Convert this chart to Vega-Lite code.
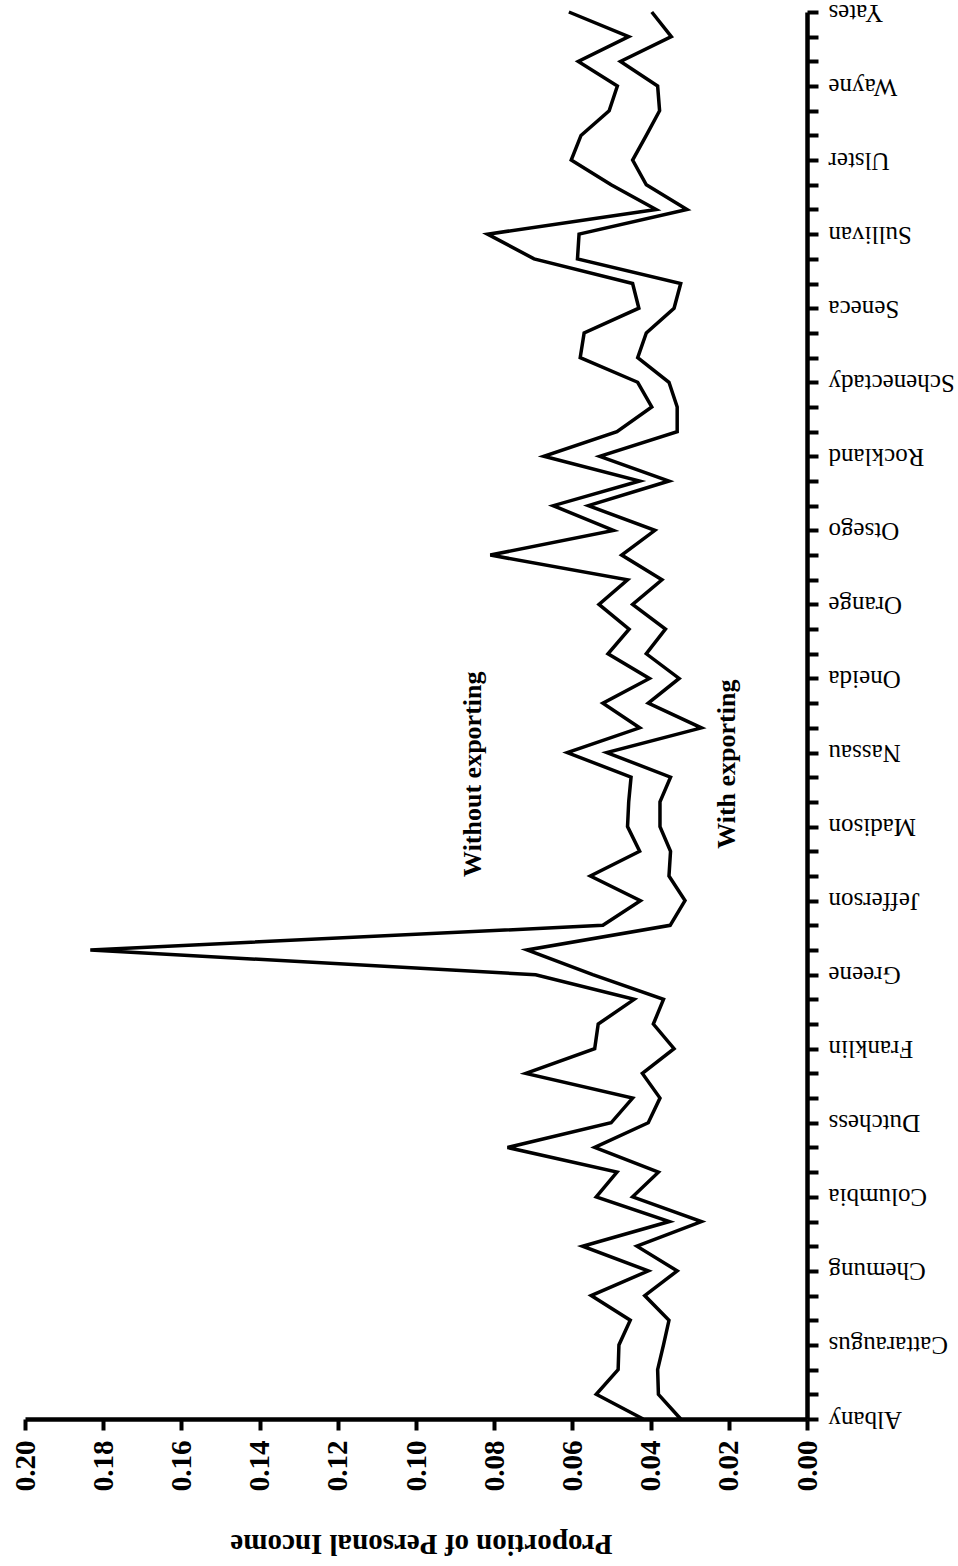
{
  "$schema": "https://vega.github.io/schema/vega-lite/v6.json",
  "width": 782,
  "height": 1407,
  "autosize": "none",
  "padding": {"left": 25, "top": 12, "right": 151, "bottom": 147},
  "background": "white",
  "config": {"view": {"stroke": null}},
  "layer": [
    {
      "data": {"values": [
        {"county":"Albany","idx":0,"series":"Without exporting","value":0.0419},
        {"county":"Allegany","idx":1,"series":"Without exporting","value":0.0539},
        {"county":"Broome","idx":2,"series":"Without exporting","value":0.0483},
        {"county":"Cattaraugus","idx":3,"series":"Without exporting","value":0.0481},
        {"county":"Cayuga","idx":4,"series":"Without exporting","value":0.0452},
        {"county":"Chautauqua","idx":5,"series":"Without exporting","value":0.0552},
        {"county":"Chemung","idx":6,"series":"Without exporting","value":0.0406},
        {"county":"Chenango","idx":7,"series":"Without exporting","value":0.0574},
        {"county":"Clinton","idx":8,"series":"Without exporting","value":0.0352},
        {"county":"Columbia","idx":9,"series":"Without exporting","value":0.0539},
        {"county":"Cortland","idx":10,"series":"Without exporting","value":0.0486},
        {"county":"Delaware","idx":11,"series":"Without exporting","value":0.0766},
        {"county":"Dutchess","idx":12,"series":"Without exporting","value":0.0501},
        {"county":"Erie","idx":13,"series":"Without exporting","value":0.0446},
        {"county":"Essex","idx":14,"series":"Without exporting","value":0.0719},
        {"county":"Franklin","idx":15,"series":"Without exporting","value":0.0543},
        {"county":"Fulton","idx":16,"series":"Without exporting","value":0.0534},
        {"county":"Genesee","idx":17,"series":"Without exporting","value":0.0442},
        {"county":"Greene","idx":18,"series":"Without exporting","value":0.0694},
        {"county":"Hamilton","idx":19,"series":"Without exporting","value":0.1833},
        {"county":"Herkimer","idx":20,"series":"Without exporting","value":0.0522},
        {"county":"Jefferson","idx":21,"series":"Without exporting","value":0.0426},
        {"county":"Lewis","idx":22,"series":"Without exporting","value":0.0554},
        {"county":"Livingston","idx":23,"series":"Without exporting","value":0.0428},
        {"county":"Madison","idx":24,"series":"Without exporting","value":0.0459},
        {"county":"Monroe","idx":25,"series":"Without exporting","value":0.0456},
        {"county":"Montgomery","idx":26,"series":"Without exporting","value":0.0450},
        {"county":"Nassau","idx":27,"series":"Without exporting","value":0.0613},
        {"county":"New York","idx":28,"series":"Without exporting","value":0.0428},
        {"county":"Niagara","idx":29,"series":"Without exporting","value":0.0522},
        {"county":"Oneida","idx":30,"series":"Without exporting","value":0.0403},
        {"county":"Onondaga","idx":31,"series":"Without exporting","value":0.0509},
        {"county":"Ontario","idx":32,"series":"Without exporting","value":0.0455},
        {"county":"Orange","idx":33,"series":"Without exporting","value":0.0532},
        {"county":"Orleans","idx":34,"series":"Without exporting","value":0.0459},
        {"county":"Oswego","idx":35,"series":"Without exporting","value":0.0810},
        {"county":"Otsego","idx":36,"series":"Without exporting","value":0.0495},
        {"county":"Putnam","idx":37,"series":"Without exporting","value":0.0649},
        {"county":"Rensselaer","idx":38,"series":"Without exporting","value":0.0428},
        {"county":"Rockland","idx":39,"series":"Without exporting","value":0.0673},
        {"county":"Saint Lawrence","idx":40,"series":"Without exporting","value":0.0486},
        {"county":"Saratoga","idx":41,"series":"Without exporting","value":0.0397},
        {"county":"Schenectady","idx":42,"series":"Without exporting","value":0.0433},
        {"county":"Schoharie","idx":43,"series":"Without exporting","value":0.0580},
        {"county":"Schuyler","idx":44,"series":"Without exporting","value":0.0570},
        {"county":"Seneca","idx":45,"series":"Without exporting","value":0.0430},
        {"county":"Steuben","idx":46,"series":"Without exporting","value":0.0446},
        {"county":"Suffolk","idx":47,"series":"Without exporting","value":0.0698},
        {"county":"Sullivan","idx":48,"series":"Without exporting","value":0.0817},
        {"county":"Tioga","idx":49,"series":"Without exporting","value":0.0386},
        {"county":"Tompkins","idx":50,"series":"Without exporting","value":0.0501},
        {"county":"Ulster","idx":51,"series":"Without exporting","value":0.0603},
        {"county":"Warren","idx":52,"series":"Without exporting","value":0.0578},
        {"county":"Washington","idx":53,"series":"Without exporting","value":0.0506},
        {"county":"Wayne","idx":54,"series":"Without exporting","value":0.0485},
        {"county":"Westchester","idx":55,"series":"Without exporting","value":0.0585},
        {"county":"Wyoming","idx":56,"series":"Without exporting","value":0.0456},
        {"county":"Yates","idx":57,"series":"Without exporting","value":0.0609},
        {"county":"Albany","idx":0,"series":"With exporting","value":0.0323},
        {"county":"Allegany","idx":1,"series":"With exporting","value":0.0380},
        {"county":"Broome","idx":2,"series":"With exporting","value":0.0382},
        {"county":"Cattaraugus","idx":3,"series":"With exporting","value":0.0367},
        {"county":"Cayuga","idx":4,"series":"With exporting","value":0.0353},
        {"county":"Chautauqua","idx":5,"series":"With exporting","value":0.0415},
        {"county":"Chemung","idx":6,"series":"With exporting","value":0.0332},
        {"county":"Chenango","idx":7,"series":"With exporting","value":0.0435},
        {"county":"Clinton","idx":8,"series":"With exporting","value":0.0270},
        {"county":"Columbia","idx":9,"series":"With exporting","value":0.0446},
        {"county":"Cortland","idx":10,"series":"With exporting","value":0.0380},
        {"county":"Delaware","idx":11,"series":"With exporting","value":0.0543},
        {"county":"Dutchess","idx":12,"series":"With exporting","value":0.0406},
        {"county":"Erie","idx":13,"series":"With exporting","value":0.0376},
        {"county":"Essex","idx":14,"series":"With exporting","value":0.0421},
        {"county":"Franklin","idx":15,"series":"With exporting","value":0.0340},
        {"county":"Fulton","idx":16,"series":"With exporting","value":0.0393},
        {"county":"Genesee","idx":17,"series":"With exporting","value":0.0367},
        {"county":"Greene","idx":18,"series":"With exporting","value":0.0548},
        {"county":"Hamilton","idx":19,"series":"With exporting","value":0.0716},
        {"county":"Herkimer","idx":20,"series":"With exporting","value":0.0350},
        {"county":"Jefferson","idx":21,"series":"With exporting","value":0.0312},
        {"county":"Lewis","idx":22,"series":"With exporting","value":0.0353},
        {"county":"Livingston","idx":23,"series":"With exporting","value":0.0349},
        {"county":"Madison","idx":24,"series":"With exporting","value":0.0376},
        {"county":"Monroe","idx":25,"series":"With exporting","value":0.0376},
        {"county":"Montgomery","idx":26,"series":"With exporting","value":0.0349},
        {"county":"Nassau","idx":27,"series":"With exporting","value":0.0512},
        {"county":"New York","idx":28,"series":"With exporting","value":0.0270},
        {"county":"Niagara","idx":29,"series":"With exporting","value":0.0406},
        {"county":"Oneida","idx":30,"series":"With exporting","value":0.0327},
        {"county":"Onondaga","idx":31,"series":"With exporting","value":0.0411},
        {"county":"Ontario","idx":32,"series":"With exporting","value":0.0362},
        {"county":"Orange","idx":33,"series":"With exporting","value":0.0446},
        {"county":"Orleans","idx":34,"series":"With exporting","value":0.0371},
        {"county":"Oswego","idx":35,"series":"With exporting","value":0.0474},
        {"county":"Otsego","idx":36,"series":"With exporting","value":0.0389},
        {"county":"Putnam","idx":37,"series":"With exporting","value":0.0559},
        {"county":"Rensselaer","idx":38,"series":"With exporting","value":0.0353},
        {"county":"Rockland","idx":39,"series":"With exporting","value":0.0530},
        {"county":"Saint Lawrence","idx":40,"series":"With exporting","value":0.0332},
        {"county":"Saratoga","idx":41,"series":"With exporting","value":0.0332},
        {"county":"Schenectady","idx":42,"series":"With exporting","value":0.0353},
        {"county":"Schoharie","idx":43,"series":"With exporting","value":0.0433},
        {"county":"Schuyler","idx":44,"series":"With exporting","value":0.0411},
        {"county":"Seneca","idx":45,"series":"With exporting","value":0.0340},
        {"county":"Steuben","idx":46,"series":"With exporting","value":0.0323},
        {"county":"Suffolk","idx":47,"series":"With exporting","value":0.0587},
        {"county":"Sullivan","idx":48,"series":"With exporting","value":0.0583},
        {"county":"Tioga","idx":49,"series":"With exporting","value":0.0307},
        {"county":"Tompkins","idx":50,"series":"With exporting","value":0.0411},
        {"county":"Ulster","idx":51,"series":"With exporting","value":0.0446},
        {"county":"Warren","idx":52,"series":"With exporting","value":0.0411},
        {"county":"Washington","idx":53,"series":"With exporting","value":0.0377},
        {"county":"Wayne","idx":54,"series":"With exporting","value":0.0382},
        {"county":"Westchester","idx":55,"series":"With exporting","value":0.0477},
        {"county":"Wyoming","idx":56,"series":"With exporting","value":0.0347},
        {"county":"Yates","idx":57,"series":"With exporting","value":0.0397}
      ]},
      "mark": {"type": "line", "color": "black", "strokeWidth": 3.5},
      "encoding": {
        "x": {
          "field": "value", "type": "quantitative",
          "scale": {"domain": [0, 0.2], "reverse": true, "nice": false, "zero": true},
          "axis": {
            "values": [0, 0.02, 0.04, 0.06, 0.08, 0.1, 0.12, 0.14, 0.16, 0.18, 0.2],
            "format": ".2f",
            "labelAngle": 270, "labelAlign": "right", "labelBaseline": "middle",
            "labelFont": "Liberation Serif", "labelFontWeight": "bold", "labelFontSize": 29,
            "labelColor": "black", "labelPadding": 10, "labelFlush": false, "labelOverlap": false,
            "tickSize": 11, "tickWidth": 4, "tickColor": "black",
            "domainWidth": 4.5, "domainColor": "black", "grid": false,
            "title": "Proportion of Personal Income",
            "titleFont": "Liberation Serif", "titleFontSize": 29, "titleFontWeight": "bold",
            "titleColor": "black", "titleAngle": 180, "titleAlign": "center", "titleBaseline": "middle",
            "titleX": 396, "titleY": 124
          }
        },
        "y": {
          "field": "county", "type": "ordinal", "sort": "descending",
          "scale": {"type": "point", "padding": 0},
          "axis": {
            "orient": "right",
            "labelExpr": "indexof(['Albany','Cattaraugus','Chemung','Columbia','Dutchess','Franklin','Greene','Jefferson','Madison','Nassau','Oneida','Orange','Otsego','Rockland','Schenectady','Seneca','Sullivan','Ulster','Wayne','Yates'], datum.value) >= 0 ? datum.value : ''",
            "labelAngle": 180, "labelAlign": "right", "labelBaseline": "middle",
            "labelFont": "Liberation Serif", "labelFontSize": 25, "labelColor": "black",
            "labelPadding": 10, "labelOverlap": false,
            "tickSize": 11, "tickWidth": 4, "tickColor": "black",
            "domainWidth": 4.5, "domainColor": "black", "grid": false, "title": null
          }
        },
        "detail": {"field": "series"},
        "order": {"field": "idx", "type": "quantitative"}
      }
    },
    {
      "data": {"values": [{"label": "Without exporting", "county": "Montgomery", "value": 0.0855}]},
      "mark": {"type": "text", "angle": 270, "font": "Liberation Serif", "fontWeight": "bold", "fontSize": 26, "align": "center", "baseline": "middle", "dx": 3, "color": "black"},
      "encoding": {
        "x": {"field": "value", "type": "quantitative"},
        "y": {"field": "county", "type": "ordinal", "sort": "descending"},
        "text": {"field": "label"}
      }
    },
    {
      "data": {"values": [{"label": "With exporting", "county": "Montgomery", "value": 0.0204}]},
      "mark": {"type": "text", "angle": 270, "font": "Liberation Serif", "fontWeight": "bold", "fontSize": 26, "align": "center", "baseline": "middle", "dx": 13, "color": "black"},
      "encoding": {
        "x": {"field": "value", "type": "quantitative"},
        "y": {"field": "county", "type": "ordinal", "sort": "descending"},
        "text": {"field": "label"}
      }
    }
  ]
}
